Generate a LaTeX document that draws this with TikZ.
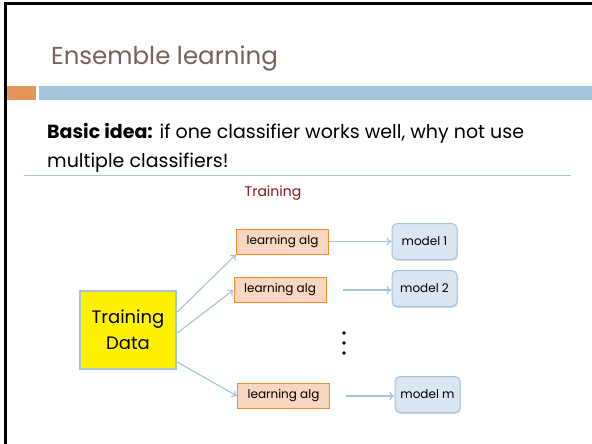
\documentclass[tikz,border=0pt]{standalone}
\usepackage{fontspec}
\setmainfont{Poppins}
\usetikzlibrary{arrows.meta,shadows}
\definecolor{titlec}{RGB}{118,98,90}
\definecolor{orangebar}{RGB}{230,150,90}
\definecolor{bluebar}{RGB}{165,195,218}
\definecolor{trainred}{RGB}{139,20,20}
\definecolor{algfill}{RGB}{248,214,192}
\definecolor{algdraw}{RGB}{242,140,50}
\definecolor{modfill}{RGB}{220,230,242}
\tikzset{
  algbox/.style={draw=algdraw, fill=algfill, line width=1pt, minimum width=92pt, minimum height=25pt, inner sep=0pt, font=\fontsize{12}{14}\selectfont},
  modbox/.style={draw=bluebar, fill=modfill, line width=1pt, rounded corners=5pt, minimum width=65pt, minimum height=36pt, inner sep=0pt, font=\fontsize{12}{14}\selectfont, drop shadow={shadow xshift=1pt, shadow yshift=-1.5pt, opacity=0.25}},
  conn/.style={draw=bluebar, line width=1.1pt, -{To[length=5pt,width=8pt]}},
  bodytext/.style={anchor=base west, inner sep=0pt, font=\fontsize{19}{21}\selectfont},
}
\begin{document}
\begin{tikzpicture}[x=1pt,y=-1pt]
\useasboundingbox (0,0) rectangle (592,444);
\fill[white] (0,0) rectangle (592,444);
% border
\draw[line width=3pt] (5.5,444) -- (5.5,4) -- (592,4);
% title
\node[anchor=base west, inner sep=0pt, text=titlec, font=\fontsize{24.5}{28}\selectfont] (title) at (51,65) {Ensemble learning};
% bars
\fill[orangebar] (7,86) rectangle (36,100);
\fill[bluebar] (39,86) rectangle (592,100);
% body text
\node[bodytext] (l1) at (47,139) {\textbf{Basic idea:} if one classifier works well, why not use};
\node[bodytext] (l2) at (47,167) {multiple classifiers!};
\draw[bluebar, line width=1.2pt] (24,175.5) -- (571,175.5);
\node[text=trainred, font=\fontsize{14}{16}\selectfont, inner sep=0pt] (training) at (273,193) {Training};
% nodes
\node[draw=bluebar, line width=2.5pt, fill=yellow, minimum width=96pt, minimum height=78pt, inner sep=0pt, align=center, font=\fontsize{18}{26}\selectfont] (data) at (128,330) {Training\\Data};
\node[algbox] (a1) at (282.5,241.5) {learning alg};
\node[algbox] (a2) at (280,290) {learning alg};
\node[algbox] (a3) at (283.5,396) {learning alg};
\node[modbox] (m1) at (424.5,241.5) {model 1};
\node[modbox] (m2) at (424.5,288.5) {model 2};
\node[modbox] (m3) at (427.5,394.5) {model m};
\foreach \yy in {333,343,353} \fill (344,\yy) circle (1.8pt);
% connectors
\draw[conn] (data.east |- 0,312) -- (a1.south west);
\draw[conn] (data.east |- 0,333) -- (a2.west);
\draw[conn] (data.east |- 0,362) -- (a3.west);
\draw[conn] (a1.east) -- (m1.west |- a1.east);
\draw[conn, shorten <=16pt] (a2.east) -- (m2.west |- a2.east);
\draw[conn, shorten <=16pt] (a3.east) -- (m3.west |- a3.east);
\end{tikzpicture}
\end{document}
